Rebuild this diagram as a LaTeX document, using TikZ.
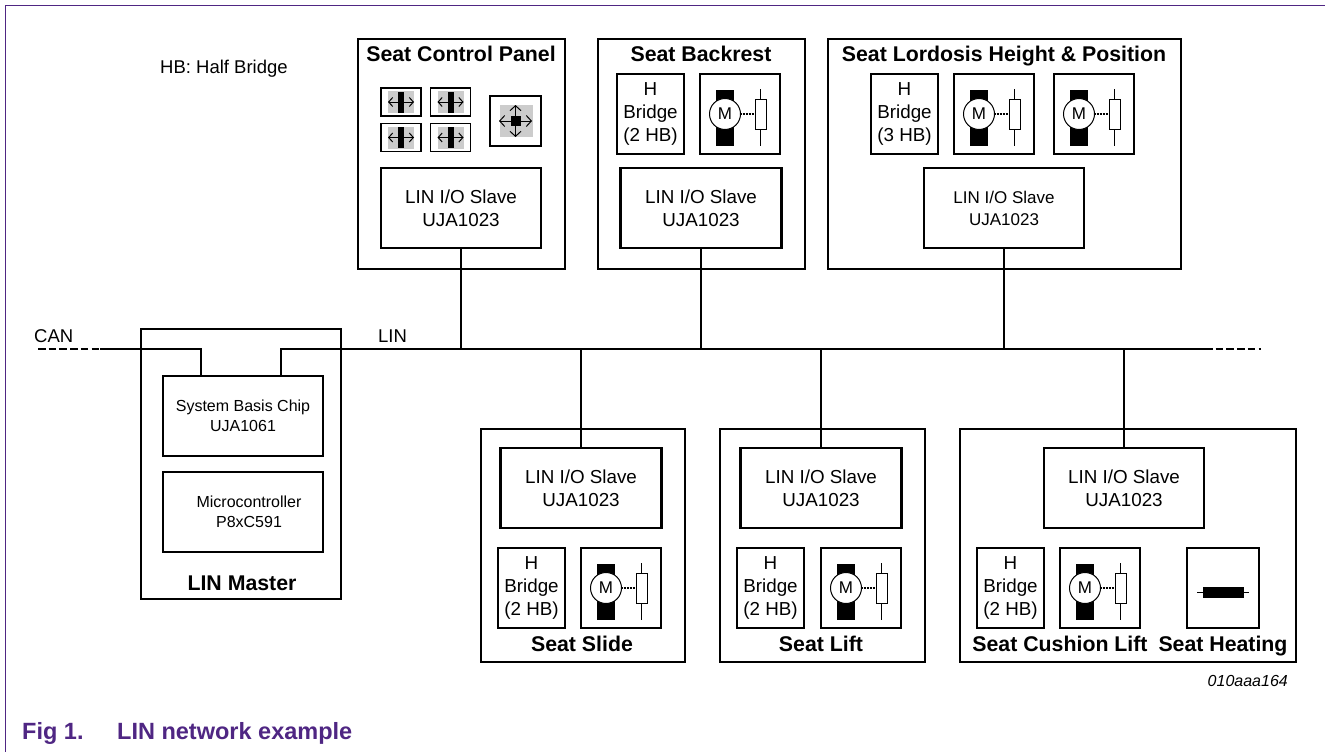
\documentclass[tikz,border=0pt]{standalone}
\usepackage{fontspec}
\setmainfont{Liberation Sans}
\usetikzlibrary{arrows.meta}
\definecolor{nxp}{HTML}{4F2683}
\definecolor{pad}{HTML}{CCCCCC}
\tikzset{
  wire/.style={draw=black,line width=2.2pt},
  dash wire/.style={draw=black,line width=2.2pt,dash pattern=on 7.5pt off 3.2pt},
  box/.style={draw=black,line width=2.4pt,fill=white,inner sep=0pt,outer sep=0pt,align=center,anchor=north west,font=\fontsize{18.8}{23}\selectfont},
  small text/.style={font=\fontsize{16}{20}\selectfont},
  mid text/.style={font=\fontsize{17}{22}\selectfont},
  title/.style={font=\fontsize{21.3}{25}\selectfont\bfseries,inner sep=0pt,anchor=base},
  plain/.style={font=\fontsize{18.5}{22}\selectfont,inner sep=0pt,anchor=base west},
  caption/.style={font=\fontsize{23.5}{27}\selectfont\bfseries,text=nxp,inner sep=0pt,anchor=base west},
  thin box/.style={draw=black,line width=1.1pt,fill=white,inner sep=0pt,outer sep=0pt},
  sym/.style={draw=black,line width=1pt}
}
% [style], name, x1, y1, x2, y2, text
\newcommand{\bx}[7][]{\node[box,#1,minimum width={(#5-#3)*1pt},minimum height={(#6-#4)*1pt}] (#2) at (#3,#4) {#7};}
\newcommand{\hbridge}[4]{\bx{#1}{#2}{#3}{#2+67}{#3+80}{H\\Bridge\\(#4 HB)}}
\newcommand{\motor}[3]{%
  \bx{#1}{#2}{#3}{#2+80}{#3+80}{}
  \begin{scope}[shift={(#2,#3)}]
    \fill[black] (16,16) rectangle (34,72);
    \node[draw=black,line width=1pt,fill=white,circle,minimum size=31pt,inner sep=0pt,font=\fontsize{17}{17}\selectfont] (#1m) at (25,40) {M};
    \draw[sym] (60.5,15) -- (60.5,72);
    \node[draw=black,line width=1pt,fill=white,minimum width=11pt,minimum height=30pt,inner sep=0pt] (#1r) at (60.5,40) {};
    \draw[line width=1.3pt,dash pattern=on 1pt off 0.5pt] (#1m.east) -- (#1r.west);
  \end{scope}}
\newcommand{\btn}[3]{%
  \node[thin box,minimum width=40pt,minimum height=28pt] (#1) at (#2,#3) {};
  \fill[pad] (#2-13,#3-11) rectangle (#2+13,#3+11);
  \fill[black] (#2-3,#3-10.5) rectangle (#2+3,#3+10.5);
  \draw[line width=1pt,<->,>={Straight Barb[length=4pt,width=9pt]}] (#2-13,#3) -- (#2+13,#3);}
\begin{document}
\begin{tikzpicture}[x=1pt,y=-1pt]
\useasboundingbox (0,0) rectangle (1325,752);
\fill[white] (0,0) rectangle (1325,752);
% page frame
\draw[nxp,line width=1.3pt] (1325,5.5) -- (5.5,5.5) -- (5.5,752);
% bus end points
\coordinate (busL) at (100,349);
\coordinate (busR) at (1205,349);
\coordinate (canEnd) at (38,349);
\coordinate (linEnd) at (1261,349);
% outer boxes
\bx{panel}{358}{39}{565}{269}{}
\bx{back}{598}{39}{805}{269}{}
\bx{lord}{828}{39}{1181}{269}{}
\bx{slide}{481}{429}{685}{662}{}
\bx{lift}{720}{429}{925}{662}{}
\bx{cush}{960}{429}{1296}{662}{}
\bx{master}{141}{329}{341}{599}{}
% master
\bx[small text]{sbc}{163}{376}{323}{456}{System Basis Chip\\UJA1061}
\bx[small text]{micro}{163}{472}{323}{552}{\hspace*{12pt}Microcontroller\\\hspace*{12pt}P8xC591}
\node[title] at (242,590) {LIN Master};
% slaves
\bx{s1}{381}{168}{541}{248}{LIN I/O Slave\\UJA1023}
\bx{s2}{620.5}{168}{781.5}{248}{LIN I/O Slave\\UJA1023}
\bx[mid text]{s3}{924}{168}{1084}{248}{LIN I/O Slave\\UJA1023}
\bx{s4}{500.5}{448}{661.5}{528}{LIN I/O Slave\\UJA1023}
\bx{s5}{740.5}{448}{901.5}{528}{LIN I/O Slave\\UJA1023}
\bx{s6}{1044}{448}{1204}{528}{LIN I/O Slave\\UJA1023}
% titles
\node[title] at (461,62) {Seat Control Panel};
\node[title] at (701,62) {Seat Backrest};
\node[title] at (1004,62) {Seat Lordosis Height \& Position};
\node[title] at (582,651) {Seat Slide};
\node[title] at (821,651) {Seat Lift};
\node[title] at (1060,651) {Seat Cushion Lift};
\node[title] at (1223,651) {Seat Heating};
% panel buttons
\btn{b1}{401}{102}
\btn{b2}{450.5}{102}
\btn{b3}{401}{137.5}
\btn{b4}{450.5}{137.5}
\node[thin box,minimum width=51pt,minimum height=50pt] (b5) at (515.5,121) {};
\fill[pad] (499.5,105) rectangle (532.5,137);
\fill[black] (510.5,116) rectangle (520.5,126);
\draw[line width=1pt,<->,>={Straight Barb[length=5pt,width=11pt]}] (499,121) -- (532,121);
\draw[line width=1pt,<->,>={Straight Barb[length=5pt,width=11pt]}] (515.5,105) -- (515.5,137);
% bridges and motors
\hbridge{h2}{617}{74}{2}
\motor{m2}{700}{74}
\hbridge{h3}{871}{74}{3}
\motor{m3a}{954}{74}
\motor{m3b}{1054}{74}
\hbridge{h4}{498}{548}{2}
\motor{m4}{581}{548}
\hbridge{h5}{737}{548}{2}
\motor{m5}{821}{548}
\hbridge{h6}{977}{548}{2}
\motor{m6}{1060}{548}
% heating
\bx{heat}{1187}{548}{1259}{628}{}
\draw[sym] (1197,592) -- (1249,592);
\fill[black] (1203,587) rectangle (1244,598);
% bus
\draw[dash wire] (canEnd) -- (busL);
\draw[dash wire] (busR) -- (linEnd);
\coordinate (tapL) at (201,376);
\coordinate (tapR) at (281,376);
\draw[wire] (busL) -- (201,349) -- (tapL);
\draw[wire] (tapR) -- (281,349) -- (busR);
% drops
\draw[wire] (s1.south) -- (s1.south |- busL);
\draw[wire] (s2.south) -- (s2.south |- busL);
\draw[wire] (s3.south) -- (s3.south |- busL);
\draw[wire] (s4.north |- busL) -- (s4.north);
\draw[wire] (s5.north |- busL) -- (s5.north);
\draw[wire] (s6.north |- busL) -- (s6.north);
% labels
\node[plain] at (160,74) {HB: Half Bridge};
\node[plain] at (34,342) {CAN};
\node[plain] at (378,342) {LIN};
\node[font=\fontsize{16}{18}\selectfont\itshape,inner sep=0pt,anchor=base east] at (1288,686) {010aaa164};
\node[caption] at (22,739) {Fig 1.};
\node[caption] at (117,739) {LIN network example};
\end{tikzpicture}
\end{document}
